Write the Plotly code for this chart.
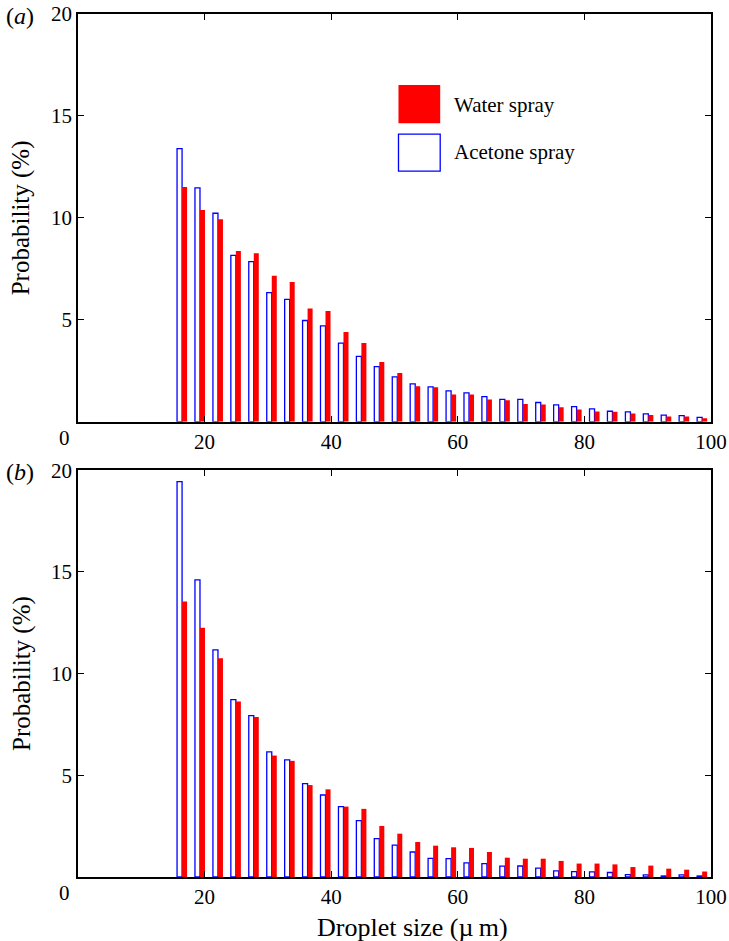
import plotly.graph_objects as go

# Droplet size bin centres (µm)
sizes = [16.44, 19.27, 22.11, 24.94, 27.77, 30.61, 33.44, 36.27, 39.10, 41.94,
         44.77, 47.60, 50.44, 53.27, 56.10, 58.94, 61.77, 64.60, 67.43, 70.27,
         73.10, 75.93, 78.77, 81.60, 84.43, 87.27, 90.10, 92.93, 95.76, 98.60]

# Panel (a) probabilities (%)
acetone_a = [13.40, 11.47, 10.23, 8.16, 7.86, 6.34, 6.01, 4.97, 4.71, 3.86,
             3.21, 2.71, 2.21, 1.86, 1.72, 1.52, 1.42, 1.24, 1.10, 1.10,
             0.95, 0.83, 0.75, 0.64, 0.52, 0.49, 0.39, 0.33, 0.31, 0.22]
water_a = [11.52, 10.39, 9.94, 8.38, 8.27, 7.16, 6.86, 5.56, 5.44, 4.41,
           3.87, 2.93, 2.39, 1.75, 1.70, 1.34, 1.34, 1.10, 1.06, 0.87,
           0.85, 0.71, 0.61, 0.51, 0.49, 0.41, 0.33, 0.26, 0.26, 0.18]

# Panel (b) probabilities (%)
acetone_b = [19.44, 14.61, 11.17, 8.72, 7.93, 6.15, 5.76, 4.59, 4.03, 3.46,
             2.77, 1.89, 1.57, 1.23, 0.92, 0.90, 0.69, 0.66, 0.53, 0.54,
             0.44, 0.30, 0.26, 0.25, 0.22, 0.12, 0.10, 0.05, 0.10, 0.05]
water_b = [13.55, 12.25, 10.76, 8.63, 7.86, 5.97, 5.71, 4.52, 4.31, 3.46,
           3.35, 2.51, 2.13, 1.72, 1.54, 1.46, 1.43, 1.23, 0.95, 0.90,
           0.90, 0.79, 0.66, 0.66, 0.62, 0.49, 0.56, 0.41, 0.36, 0.27]

x_ticks = [20, 40, 60, 80, 100]
y_ticks = [5, 10, 15, 20]

FONT = "Liberation Serif"
BLUE = "#0000FF"
RED = "#FF0000"

fig = go.Figure()
for acet, wat, xa, ya in [(acetone_a, water_a, "x", "y"), (acetone_b, water_b, "x2", "y2")]:
    fig.add_trace(go.Bar(x=sizes, y=acet, xaxis=xa, yaxis=ya, name="Acetone spray",
                         marker=dict(color="white", line=dict(color=BLUE, width=1.3)),
                         showlegend=False))
    fig.add_trace(go.Bar(x=sizes, y=wat, xaxis=xa, yaxis=ya, name="Water spray",
                         marker=dict(color=RED, line=dict(width=0)),
                         showlegend=False))

axis_common = dict(showline=True, linecolor="black", linewidth=1.5, mirror="ticks",
                   ticks="inside", ticklen=6, tickwidth=1, tickcolor="black",
                   showgrid=False, zeroline=False, automargin=False,
                   tickfont=dict(family=FONT, size=21, color="black"))

fig.update_layout(
    width=729, height=941,
    margin=dict(l=78, r=18, t=14, b=64),
    paper_bgcolor="white", plot_bgcolor="white",
    barmode="group", bargap=0.44, bargroupgap=0,
    font=dict(family=FONT, color="black"),
    xaxis=dict(range=[0, 100], tickvals=x_ticks, anchor="y", domain=[0, 1], **axis_common),
    yaxis=dict(range=[0, 20], tickvals=y_ticks, anchor="x", domain=[0.5274, 1], **axis_common),
    xaxis2=dict(range=[0, 100], tickvals=x_ticks, anchor="y2", domain=[0, 1], **axis_common),
    yaxis2=dict(range=[0, 20], tickvals=y_ticks, anchor="x2", domain=[0, 0.4714], **axis_common),
)

ann = []
for xr, yr, lab in [("x domain", "y domain", "(<i>a</i>)"), ("x2 domain", "y2 domain", "(<i>b</i>)")]:
    # panel label
    ann.append(dict(text=lab, xref=xr, yref=yr, x=-0.0915, y=1.0, yshift=-2, xanchor="center",
                    yanchor="middle", showarrow=False, font=dict(family=FONT, size=24)))
    # corner zero
    ann.append(dict(text="0", xref=xr, yref=yr, x=-0.0215, y=0, yshift=-16, xanchor="center",
                    yanchor="middle", showarrow=False, font=dict(family=FONT, size=21)))
    # y title
    ann.append(dict(text="Probability (%)", xref=xr, yref=yr, x=-0.0894, y=0.5,
                    xanchor="center", yanchor="middle", textangle=-90, showarrow=False,
                    font=dict(family=FONT, size=25)))

ann.append(dict(text="Droplet size (µ\u2009m)", xref="x2 domain", yref="y2 domain", x=0.528, y=0,
                yshift=-50, xanchor="center", yanchor="middle", showarrow=False,
                font=dict(family=FONT, size=26)))

# legend (manual)
ann.append(dict(text="Water spray", xref="x domain", yref="y domain", x=0.5906, y=0.7768,
                xanchor="left", yanchor="middle", showarrow=False, font=dict(family=FONT, size=21)))
ann.append(dict(text="Acetone spray", xref="x domain", yref="y domain", x=0.5906, y=0.6622,
                xanchor="left", yanchor="middle", showarrow=False, font=dict(family=FONT, size=21)))
fig.update_layout(annotations=ann)

fig.add_shape(type="rect", xref="x domain", yref="y domain", x0=0.5063, x1=0.5722,
              y0=0.7319, y1=0.8259, fillcolor=RED, line=dict(width=0))
fig.add_shape(type="rect", xref="x domain", yref="y domain", x0=0.5063, x1=0.5722,
              y0=0.6149, y1=0.7057, fillcolor="white", line=dict(color=BLUE, width=1.3))

fig.write_html("out.html", config={"displayModeBar": False},
               post_script="document.body.style.margin='0';")
